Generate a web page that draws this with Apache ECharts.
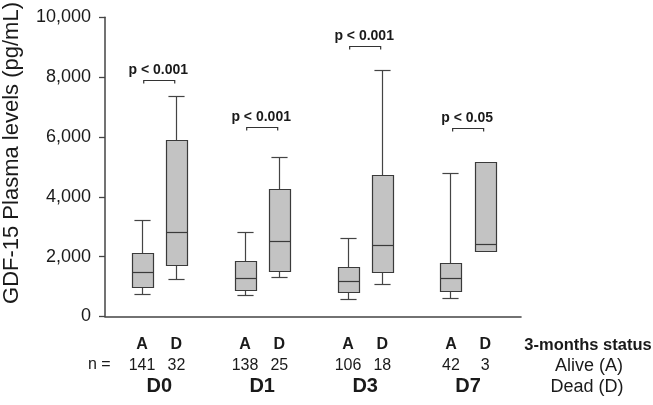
<!DOCTYPE html>
<html>
<head>
<meta charset="utf-8">
<script src="https://cdn.jsdelivr.net/npm/echarts@6/dist/echarts.min.js"></script>
<style>
html,body{margin:0;padding:0;background:#fff;}
#chart{width:653px;height:405px;}
</style>
</head>
<body>
<div id="chart"></div>
<script>
// ---- data ----
const groups = ['D0', 'D1', 'D3', 'D7'];
// [low whisker, Q1, median, Q3, high whisker]
const aliveStats = [
  [720, 967, 1467, 2100, 3210],
  [687, 867, 1267, 1843, 2800],
  [577, 800, 1177, 1643, 2610],
  [610, 833, 1277, 1777, 4777]
];
const deadStats = [
  [1243, 1720, 2800, 5887, 7343],
  [1287, 1510, 2510, 4233, 5320],
  [1077, 1487, 2377, 4700, 8210],
  [2167, 2167, 2400, 5153, 5153]
];
const aliveN = [141, 138, 106, 42];
const deadN = [32, 25, 18, 3];
const pLabels = ['p < 0.001', 'p < 0.001', 'p < 0.001', 'p < 0.05'];
const pBracket = [7880, 6320, 9020, 6300];
const yTicks = [0, 2000, 4000, 6000, 8000, 10000];
const statusLabels = ['A', 'D'];
const legendLines = ['3-months status', 'Alive (A)', 'Dead (D)'];
const yTitle = 'GDF-15 Plasma levels (pg/mL)';

const FONT = '"Liberation Sans", Arial, Helvetica, sans-serif';
const INK = '#1a1a1a';

// build box data: [x, low, q1, med, q3, high]
const boxData = [];
groups.forEach((g, i) => {
  boxData.push([3 * i].concat(aliveStats[i]));
  boxData.push([3 * i + 1].concat(deadStats[i]));
});
const annData = groups.map((g, i) => [3 * i + 0.5, pBracket[i], i]);
const labelData = groups.map((g, i) => [3 * i, 0, i]);

function r5(v) { return Math.round(v - 0.5) + 0.5; }

const chart = echarts.init(document.getElementById('chart'), null, { renderer: 'canvas' });

chart.setOption({
  animation: false,
  backgroundColor: '#fff',
  grid: { left: 105, right: 132, top: 17.3, bottom: 88.5, containLabel: false },
  xAxis: {
    type: 'value', min: -1.08, max: 11.04,
    axisLine: { show: true, onZero: false, lineStyle: { color: '#444', width: 1.6 } },
    axisTick: { show: false }, axisLabel: { show: false }, splitLine: { show: false }
  },
  yAxis: {
    type: 'value', min: yTicks[0], max: yTicks[yTicks.length - 1], interval: 2000,
    axisLine: { show: true, onZero: false, lineStyle: { color: '#444', width: 1.5 } },
    axisTick: { show: true, inside: false, length: 6, lineStyle: { color: '#444', width: 1.3 } },
    axisLabel: {
      margin: 14, fontFamily: FONT, fontSize: 18, color: INK,
      formatter: v => v.toLocaleString('en-US')
    },
    splitLine: { show: false }
  },
  series: [
    {
      type: 'custom',
      data: boxData,
      encode: { x: 0, y: [1, 2, 3, 4, 5] },
      renderItem: function (params, api) {
        const x = api.value(0);
        const low = api.value(1), q1 = api.value(2), med = api.value(3), q3 = api.value(4), high = api.value(5);
        const unit = api.size([1, 0])[0];
        const bw = unit * 0.62, cw = unit * 0.47;
        const cx = r5(api.coord([x, med])[0]);
        const yl = r5(api.coord([x, low])[1]);
        const y1 = r5(api.coord([x, q1])[1]);
        const ym = r5(api.coord([x, med])[1]);
        const y3 = r5(api.coord([x, q3])[1]);
        const yh = r5(api.coord([x, high])[1]);
        const ls = { stroke: '#444', lineWidth: 1.2 };
        const children = [];
        if (high > q3) {
          children.push({ type: 'line', shape: { x1: cx, y1: yh, x2: cx, y2: y3 }, style: ls });
          children.push({ type: 'line', shape: { x1: cx - cw / 2, y1: yh, x2: cx + cw / 2, y2: yh }, style: ls });
        }
        if (low < q1) {
          children.push({ type: 'line', shape: { x1: cx, y1: y1, x2: cx, y2: yl }, style: ls });
          children.push({ type: 'line', shape: { x1: cx - cw / 2, y1: yl, x2: cx + cw / 2, y2: yl }, style: ls });
        }
        const left = Math.round(cx - bw / 2) + 0.5;
        const right = Math.round(cx + bw / 2) + 0.5;
        children.push({ type: 'rect', shape: { x: left, y: y3, width: right - left, height: y1 - y3 },
          style: { fill: '#c3c3c3', stroke: '#3a3a3a', lineWidth: 1.2 } });
        children.push({ type: 'line', shape: { x1: left, y1: ym, x2: right, y2: ym }, style: { stroke: '#3a3a3a', lineWidth: 1.2 } });
        return { type: 'group', children: children };
      }
    },
    {
      type: 'custom',
      data: annData,
      encode: { x: 0, y: 1 },
      renderItem: function (params, api) {
        const c = api.coord([api.value(0), api.value(1)]);
        const i = api.value(2);
        const half = 15.5;
        const y = r5(c[1]);
        return {
          type: 'group',
          children: [
            { type: 'polyline', shape: { points: [[c[0] - half, y + 3], [c[0] - half, y], [c[0] + half, y], [c[0] + half, y + 3]] },
              style: { stroke: '#333', lineWidth: 1.2, fill: null } },
            { type: 'text', x: c[0] - 1, y: y - 3,
              style: { text: pLabels[i], fontFamily: FONT, fontSize: 14, fontWeight: 'bold', fill: INK,
                align: 'center', verticalAlign: 'bottom' } }
          ]
        };
      }
    },
    {
      type: 'custom',
      data: labelData,
      encode: { x: 0, y: 1 },
      clip: false,
      renderItem: function (params, api) {
        const i = api.value(2);
        const pA = api.coord([api.value(0), 0]);
        const pD = api.coord([api.value(0) + 1, 0]);
        const y0 = pA[1];
        const t = (x, y, text, size, bold) => ({
          type: 'text', x: x, y: y,
          style: { text: String(text), fontFamily: FONT, fontSize: size, fontWeight: bold ? 'bold' : 'normal',
            fill: INK, align: 'center', verticalAlign: 'middle' }
        });
        return {
          type: 'group',
          children: [
            t(pA[0], y0 + 28, statusLabels[0], 16, true),
            t(pD[0], y0 + 28, statusLabels[1], 16, true),
            t(pA[0], y0 + 49, aliveN[i], 16, false),
            t(pD[0], y0 + 49, deadN[i], 16, false),
            t((pA[0] + pD[0]) / 2, y0 + 70, groups[i], 20, true)
          ]
        };
      }
    }
  ],
  graphic: [
    { type: 'text', x: 12, y: 153, rotation: Math.PI / 2,
      style: { text: yTitle, fontFamily: FONT, fontSize: 22, fill: INK, align: 'center', verticalAlign: 'middle' } },
    { type: 'text', left: 88, top: 357, style: { text: 'n =', fontFamily: FONT, fontSize: 16, fill: INK } },
    { type: 'text', x: 588, y: 345, style: { text: legendLines[0], fontFamily: FONT, fontSize: 16.5, fontWeight: 'bold', fill: INK, align: 'center', verticalAlign: 'middle' } },
    { type: 'text', x: 589, y: 366, style: { text: legendLines[1], fontFamily: FONT, fontSize: 18, fill: INK, align: 'center', verticalAlign: 'middle' } },
    { type: 'text', x: 587, y: 387, style: { text: legendLines[2], fontFamily: FONT, fontSize: 18, fill: INK, align: 'center', verticalAlign: 'middle' } }
  ]
});
</script>
</body>
</html>
